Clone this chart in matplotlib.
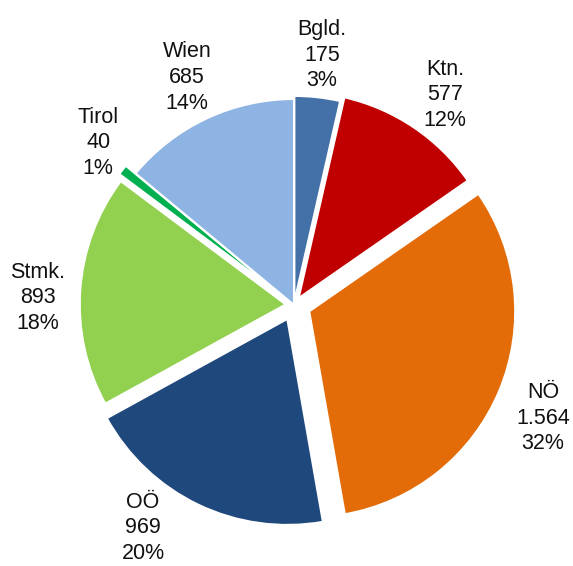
import matplotlib
matplotlib.use("Agg")
import matplotlib.pyplot as plt
import numpy as np

# Daten
names = ["Bgld.", "Ktn.", "NÖ", "OÖ", "Stmk.", "Tirol", "Wien"]
values = [175, 577, 1564, 969, 893, 40, 685]
pct_labels = ["3%", "12%", "32%", "20%", "18%", "1%", "14%"]

colors = ["#4470A8", "#C00000", "#E36C09", "#1F497D", "#92D050", "#00B050", "#8EB4E3"]
explode = [0.015, 0.04, 0.08, 0.075, 0.04, 0.06, 0.0]
# Beschriftungsabstand (in Radien) und Winkelkorrektur je Segment
label_r = [1.221, 1.256, 1.327, 1.307, 1.243, 1.234, 1.220]
label_shift = [0.0, -1.7, -1.8, -8.5, 2.4, -1.4, 0.0]

plt.rcParams["font.family"] = ["Liberation Sans", "DejaVu Sans"]

fig = plt.figure(figsize=(5.73, 5.66), dpi=100)
ax = fig.add_axes([0, 0, 1, 1])

wedges, _ = ax.pie(values, colors=colors, explode=explode, startangle=90,
                   counterclock=False, radius=1.0,
                   wedgeprops=dict(edgecolor="white", linewidth=1.5))

for w, n, v, p, d, s in zip(wedges, names, values, pct_labels, label_r, label_shift):
    mid = np.deg2rad((w.theta1 + w.theta2) / 2 + s)
    txt = f"{n}\n{v:,}".replace(",", ".") + f"\n{p}"
    ax.text(d * np.cos(mid), d * np.sin(mid), txt, ha="center", va="center",
            fontsize=15.5, color="#111111", linespacing=1.3)

# Pixel-Layout: Mittelpunkt bei (294, 305), Radius 206 px
r_px = 206
cx, cy = 294, 566 - 305
ax.set_xlim(-cx / r_px, (573 - cx) / r_px)
ax.set_ylim(-cy / r_px, (566 - cy) / r_px)
ax.set_aspect("auto")
ax.axis("off")

fig.savefig("out.png", dpi=100, facecolor="white")
